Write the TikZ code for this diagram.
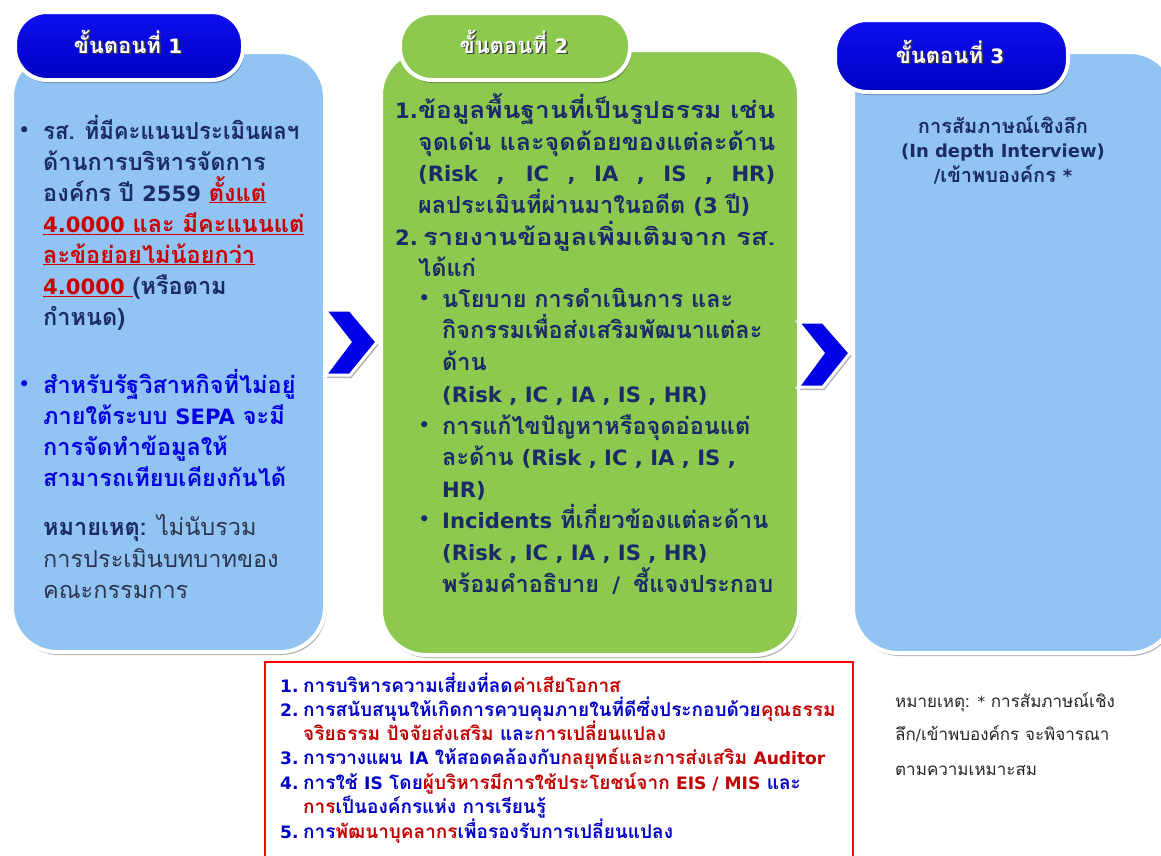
\documentclass[tikz,border=0pt]{standalone}
\usepackage{fontspec}
\usepackage{graphicx}
\setmainfont[Script=Thai]{Loma}
\newfontfamily\symfont{DejaVu Sans}
\newfontfamily\latf[Scale=0.9]{DejaVu Sans}
\newcommand\lat[1]{{\latf #1}}
\usetikzlibrary{shadows}
\definecolor{panelblue}{RGB}{146,196,243}
\definecolor{panelgreen}{RGB}{141,200,79}
\definecolor{tabblue}{RGB}{0,0,225}
\definecolor{tabtop}{RGB}{15,15,240}
\definecolor{tabbot}{RGB}{0,0,195}
\definecolor{navy}{RGB}{27,42,104}
\definecolor{notecol}{RGB}{45,52,78}
\definecolor{txtred}{RGB}{204,0,0}
\definecolor{txtblue}{RGB}{0,0,225}
\definecolor{rbblue}{RGB}{0,0,200}
\definecolor{rbred}{RGB}{195,0,0}
\definecolor{chev}{RGB}{0,0,230}
\newcommand\redul[1]{\textcolor{txtred}{\underline{#1}}}
\newcommand\bul{{\symfont\fontsize{21}{21}\selectfont\mdseries\char"2022}}
\begin{document}
\begin{tikzpicture}[x=1pt,y=-1pt,
  shad/.style={drop shadow={shadow xshift=1.5pt,shadow yshift=-3pt,opacity=0.3,fill=black}},
  panel/.style={draw=white,line width=4pt,rounded corners=45pt,shad,inner sep=0pt},
  tabshape/.style={draw=white,line width=4pt,rounded corners=32pt,shad,inner sep=0pt},
  bluetab/.style={tabshape,top color=tabtop,bottom color=tabbot},
  chevron/.style={fill=chev,draw=white,line width=3pt,line join=miter,shad},
  tabtxt/.style={font=\fontsize{22}{26}\selectfont\bfseries,anchor=base,inner sep=0pt},
  big/.style={font=\fontsize{23.5}{28}\selectfont\bfseries,anchor=base west,inner sep=0pt},
  bignote/.style={font=\fontsize{23.5}{28}\selectfont,anchor=base west,inner sep=0pt,text=notecol},
  mid/.style={font=\fontsize{20}{24}\selectfont\bfseries,anchor=base,inner sep=0pt,text=navy},
  red/.style={font=\fontsize{19}{22}\selectfont\bfseries,anchor=base west,inner sep=0pt},
  note/.style={font=\fontsize{17}{20}\selectfont,anchor=base west,inner sep=0pt,text=black!85},
]
\useasboundingbox[fill=white] (0,0) rectangle (1161,855);

% panels
\node[panel,fill=panelblue,minimum width=313pt,minimum height=600pt] (box1) at (168.5,352) {};
\node[panel,fill=panelgreen,minimum width=418pt,minimum height=605pt] (box2) at (590,352.5) {};
\node[panel,fill=panelblue,minimum width=322pt,minimum height=601pt] (box3) at (1014,352.5) {};

% tabs
\node[bluetab,minimum width=228pt,minimum height=68pt] (tab1) at (129,46) {};
\node[tabshape,fill=panelgreen,minimum width=230pt,minimum height=67pt] (tab2) at (515,46.5) {};
\node[bluetab,minimum width=233pt,minimum height=72pt] (tab3) at (951.5,56) {};
\node[tabtxt,text=black!75] (t1s) at (129.5,54.5) {ขั้นตอนที่ \lat{1}};
\node[tabtxt,text=white] (t1) at (128,53) {ขั้นตอนที่ \lat{1}};
\node[tabtxt,text=black!75] (t2s) at (515.5,54.5) {ขั้นตอนที่ \lat{2}};
\node[tabtxt,text=white] (t2) at (514,53) {ขั้นตอนที่ \lat{2}};
\node[tabtxt,text=black!75] (t3s) at (951.5,64.5) {ขั้นตอนที่ \lat{3}};
\node[tabtxt,text=white] (t3) at (950,63) {ขั้นตอนที่ \lat{3}};

% chevrons
\draw[chevron] (325,310) -- (350,310) -- (377,342) -- (350,375) -- (325,375) -- (350,342) -- cycle;
\draw[chevron] (798,322) -- (823,322) -- (850,353) -- (823,387) -- (798,387) -- (823,353) -- cycle;

% box 1 text
\node[big,text=navy] (b1a) at (18,137) {\bul};
\node[big,text=navy] (l1) at (43,139) {\resizebox{256pt}{\height}{รส. ที่มีคะแนนประเมินผลฯ}};
\node[big,text=navy] (l2) at (43,170) {ด้านการบริหารจัดการ};
\node[big,text=navy] (l3) at (43,201) {องค์กร ปี \lat{2559} \redul{ตั้งแต่}};
\node[big,text=navy] (l4) at (43,232) {\redul{\lat{4.0000} และ มีคะแนนแต่}};
\node[big,text=navy] (l5) at (43,263) {\redul{ละข้อย่อยไม่น้อยกว่า}};
\node[big,text=navy] (l6) at (43,294) {\redul{\lat{4.0000}\ }(หรือตาม};
\node[big,text=navy] (l7) at (43,325) {กำหนด)};
\node[big,text=txtblue] (b1b) at (18,391) {\bul};
\node[big,text=txtblue] (l8) at (43,393) {สำหรับรัฐวิสาหกิจที่ไม่อยู่};
\node[big,text=txtblue] (l9) at (43,424) {ภายใต้ระบบ \lat{SEPA} จะมี};
\node[big,text=txtblue] (l10) at (43,455) {การจัดทำข้อมูลให้};
\node[big,text=txtblue] (l11) at (43,486) {สามารถเทียบเคียงกันได้};
\node[bignote] (l12) at (43,535) {\textbf{\textcolor{navy}{หมายเหตุ:}} ไม่นับรวม};
\node[bignote] (l13) at (43,567) {การประเมินบทบาทของ};
\node[bignote] (l14) at (43,598) {คณะกรรมการ};

% box 2 text
\node[big,text=navy] (n1) at (395,118) {\lat{1.}};
\node[big,text=navy] (m1) at (418,118) {\resizebox{357pt}{\height}{ข้อมูลพื้นฐานที่เป็นรูปธรรม เช่น}};
\node[big,text=navy] (m2) at (418,150) {\resizebox{357pt}{\height}{จุดเด่น และจุดด้อยของแต่ละด้าน}};
\node[big,text=navy] (m3) at (418,181) {\makebox[357pt][s]{\lat{(Risk , IC , IA , IS , HR)}}};
\node[big,text=navy] (m4) at (418,213) {ผลประเมินที่ผ่านมาในอดีต \lat{(3} ปี\lat{)}};
\node[big,text=navy] (n2) at (395,245) {\lat{2.}};
\node[big,text=navy] (m5) at (423,245) {\resizebox{352pt}{\height}{รายงานข้อมูลเพิ่มเติมจาก รส.}};
\node[big,text=navy] (m6) at (418,276) {ได้แก่};
\node[big,text=navy] (bm1) at (418,305) {\bul};
\node[big,text=navy] (m7) at (442,307) {นโยบาย การดำเนินการ และ};
\node[big,text=navy] (m8) at (442,338) {กิจกรรมเพื่อส่งเสริมพัฒนาแต่ละ};
\node[big,text=navy] (m9) at (442,370) {ด้าน};
\node[big,text=navy] (m10) at (442,402) {\lat{(Risk , IC , IA , IS , HR)}};
\node[big,text=navy] (bm2) at (418,432) {\bul};
\node[big,text=navy] (m11) at (442,434) {การแก้ไขปัญหาหรือจุดอ่อนแต่};
\node[big,text=navy] (m12) at (442,465) {ละด้าน \lat{(Risk , IC , IA , IS ,}};
\node[big,text=navy] (m13) at (442,497) {\lat{HR)}};
\node[big,text=navy] (bm3) at (418,526) {\bul};
\node[big,text=navy] (m14) at (442,528) {\lat{Incidents} ที่เกี่ยวข้องแต่ละด้าน};
\node[big,text=navy] (m15) at (442,560) {\lat{(Risk , IC , IA , IS , HR)}};
\node[big,text=navy] (m16) at (442,592) {\makebox[331pt][s]{พร้อมคำอธิบาย \lat{/} ชี้แจงประกอบ}};

% box 3 text
\node[mid] (r1) at (1003,133) {การสัมภาษณ์เชิงลึก};
\node[mid] (r2) at (1003,157) {\lat{(In depth Interview)}};
\node[mid] (r3) at (1003,182) {\lat{/}เข้าพบองค์กร \lat{*}};

% red box
\node[draw=red,line width=2.5pt,minimum width=588pt,minimum height=210pt,inner sep=0pt] (rb) at (559,767) {};
\node[red,text=rbblue] (k1) at (280,692) {\lat{1.}};
\node[red,text=rbblue] (q1) at (303,692) {การบริหารความเสี่ยงที่ลด\textcolor{rbred}{ค่าเสียโอกาส}};
\node[red,text=rbblue] (k2) at (280,716) {\lat{2.}};
\node[red,text=rbblue] (q2) at (303,716) {การสนับสนุนให้เกิดการควบคุมภายในที่ดีซึ่งประกอบด้วย\textcolor{rbred}{คุณธรรม}};
\node[red,text=rbblue] (q3) at (303,740) {\textcolor{rbred}{จริยธรรม ปัจจัยส่งเสริม} และ\textcolor{rbred}{การเปลี่ยนแปลง}};
\node[red,text=rbblue] (k3) at (280,764) {\lat{3.}};
\node[red,text=rbblue] (q4) at (303,764) {การวางแผน \lat{IA} ให้สอดคล้องกับ\textcolor{rbred}{กลยุทธ์และการส่งเสริม \lat{Auditor}}};
\node[red,text=rbblue] (k4) at (280,789) {\lat{4.}};
\node[red,text=rbblue] (q5) at (303,789) {การใช้ \lat{IS} โดย\textcolor{rbred}{ผู้บริหารมีการใช้ประโยชน์จาก \lat{EIS / MIS}} และ};
\node[red,text=rbblue] (q6) at (303,813) {\textcolor{rbred}{การ}เป็นองค์กรแห่ง การเรียนรู้};
\node[red,text=rbblue] (k5) at (280,838) {\lat{5.}};
\node[red,text=rbblue] (q7) at (303,838) {การ\textcolor{rbred}{พัฒนาบุคลากร}เพื่อรองรับการเปลี่ยนแปลง};

% note
\node[note] (o1) at (895,707) {หมายเหตุ: \lat{*} การสัมภาษณ์เชิง};
\node[note] (o2) at (895,740) {ลึก\lat{/}เข้าพบองค์กร จะพิจารณา};
\node[note] (o3) at (895,775) {ตามความเหมาะสม};
\end{tikzpicture}
\end{document}
